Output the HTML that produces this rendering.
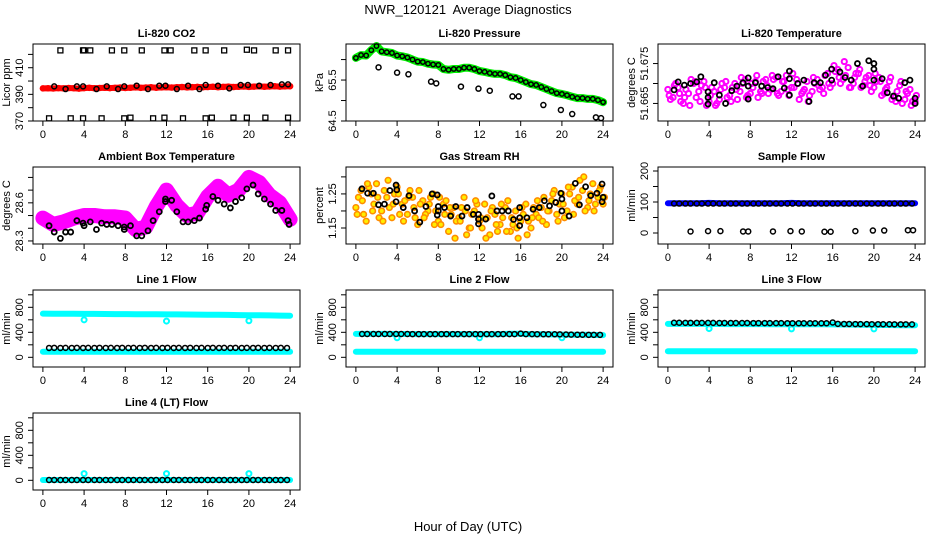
<!DOCTYPE html>
<html><head><meta charset="utf-8"><style>
html,body{margin:0;padding:0;background:#fff;}
svg{display:block;font-family:"Liberation Sans",Arial,sans-serif;}
</style></head><body>
<svg id="chart" width="936" height="540" viewBox="0 0 936 540" xmlns="http://www.w3.org/2000/svg">
<rect width="936" height="540" fill="#fff"/>
<text x="468" y="14" text-anchor="middle" font-size="13" style="white-space:pre">NWR_120121&#160; Average Diagnostics</text>
<text x="468" y="531" text-anchor="middle" font-size="13">Hour of Day (UTC)</text>
</svg>
<script>
// ---------- data ----------
const xTickLabels = [0,4,8,12,16,20,24];
const blackHours = [0.6,1.1,1.7,2.2,2.8,3.3,3.9,4.4,5.0,5.5,6.1,6.6,7.2,7.7,8.3,8.8,9.4,9.9,10.5,11.0,11.6,12.1,12.7,13.2,13.8,14.3,14.9,15.4,16.0,16.5,17.1,17.6,18.2,18.7,19.3,19.8,20.4,20.9,21.5,22.0,22.6,23.1,23.7];

// CO2
const co2Red = [394.5,394.6,394.4,394.7,394.5,394.8,394.6,394.3,394.7,394.9,394.6,394.8,395.0,394.7,394.9,395.1,394.8,395.0,395.2,394.9,395.1,395.3,395.0,395.2,395.4,395.1,395.3,395.5,395.2,395.4,395.6,395.3,395.5,395.7,395.4,395.6,395.8,395.5,395.7,395.9,395.6,395.8,396.0,395.7,395.9,396.1,395.8,396.0,396.1];
const co2BlackHours = [1.1,2.2,3.3,3.9,5.2,6.2,7.3,7.9,9.1,10.2,11.3,11.9,13.0,14.1,15.2,15.8,17.0,18.1,19.2,19.9,21.0,22.1,23.2,23.8];
const co2BlackVals = [396,394,396,396,394,396,394,396,396.5,394,396.5,396.5,394,396.5,394,397,396.5,394.5,397,397,396.5,397,397.5,397.5];
const co2HighHours = [1.7,3.9,4.0,4.6,6.7,7.9,9.6,11.8,12.4,14.7,15.8,17.6,19.8,20.5,22.6,23.8];
const co2HighVals = [423,423,423,423,423,423,423,423,423,423,423,423,423.5,423,423,423];
const co2LowHours = [0.6,2.7,3.9,5.7,7.9,8.5,10.7,11.8,13.6,15.8,16.4,18.5,19.8,21.6,23.8];
const co2LowVals = [372,372,372,372,372,372.5,372,372.5,372,372,372.5,372.5,372.5,372.5,372.5];

// Pressure
const pressGreen = [66.04,66.11,66.10,66.23,66.33,66.20,66.18,66.16,66.10,66.08,66.05,66.00,65.95,65.94,65.90,65.88,65.87,65.77,65.75,65.77,65.77,65.80,65.80,65.77,65.72,65.70,65.67,65.65,65.65,65.62,65.57,65.55,65.50,65.45,65.40,65.38,65.33,65.28,65.23,65.18,65.16,65.13,65.09,65.06,65.06,65.04,65.04,65.01,64.96];
const pressOutHours = [2.2,4.0,5.1,7.3,7.8,10.2,11.9,13.0,15.2,15.8,18.2,19.9,21.0,23.3,23.8];
const pressOutVals = [65.81,65.68,65.64,65.46,65.42,65.34,65.29,65.24,65.10,65.10,64.89,64.77,64.67,64.59,64.57];

// Li-820 temperature
const tempA = [51.6685,51.6665,51.669,51.665,51.6675,51.670,51.668,51.6705,51.6655,51.668,51.666,51.669,51.667,51.670,51.668,51.671,51.6675,51.6705,51.668,51.671,51.6685,51.6715,51.668,51.672,51.669,51.671,51.6675,51.6705,51.668,51.671,51.669,51.6725,51.670,51.6735,51.671,51.674,51.670,51.6725,51.6695,51.672,51.669,51.6715,51.6675,51.6705,51.6665,51.6695,51.666,51.6685,51.6655];
const tempB = [51.666,51.670,51.6655,51.6685,51.671,51.6665,51.6695,51.6645,51.669,51.665,51.670,51.6665,51.669,51.666,51.670,51.667,51.669,51.6665,51.6705,51.6675,51.671,51.667,51.6705,51.667,51.669,51.666,51.6685,51.667,51.670,51.6685,51.672,51.669,51.673,51.670,51.672,51.669,51.6725,51.669,51.6715,51.668,51.6705,51.667,51.669,51.666,51.668,51.665,51.6675,51.6655];
const tempC = [51.667,51.6695,51.6675,51.6665,51.6645,51.6705,51.6655,51.669,51.667,51.6645,51.6685,51.6705,51.6655,51.6685,51.6715,51.6665,51.670,51.672,51.6675,51.6695,51.672,51.6675,51.6705,51.6685,51.6725,51.670,51.668,51.6655,51.6715,51.6695,51.6675,51.670,51.6745,51.6715,51.6755,51.669,51.6715,51.6735,51.6705,51.6695,51.6725,51.6705,51.6685,51.6715,51.6655,51.6705,51.668,51.6645,51.667];
const tempBlackHours = [0.6,1.0,1.6,2.2,2.8,3.2,3.9,3.9,3.9,4.5,5.0,5.6,6.2,6.7,7.3,7.8,7.8,7.8,8.5,9.1,9.7,10.2,10.7,11.3,11.8,11.8,11.8,12.6,13.2,13.7,14.2,14.8,15.3,15.9,15.9,16.7,17.2,17.8,18.4,18.9,19.5,20.0,20.0,20.0,20.8,21.3,21.9,22.4,23.0,23.5,24.0,24.0];
const tempBlackVals = [51.6684,51.6704,51.6696,51.6700,51.6704,51.6717,51.6679,51.6665,51.66485,51.6702,51.6671,51.6650,51.6682,51.66935,51.6702,51.6714,51.66935,51.6661,51.6702,51.66935,51.6690,51.6687,51.6717,51.66885,51.6712,51.6731,51.6671,51.6700,51.67085,51.6655,51.6702,51.6702,51.6721,51.6736,51.67085,51.6729,51.6715,51.67085,51.6750,51.66935,51.6757,51.6750,51.6736,51.67085,51.6712,51.6677,51.66685,51.6663,51.6702,51.67085,51.6650,51.6663];

// Ambient box temperature (hourly band centre)
const ambBand = [28.48,28.43,28.45,28.48,28.50,28.50,28.49,28.49,28.48,28.39,28.41,28.57,28.70,28.58,28.50,28.52,28.65,28.73,28.66,28.70,28.80,28.76,28.66,28.60,28.47];
const ambBlackHours = [0.6,1.1,1.7,2.2,2.7,3.3,3.9,4.0,4.6,5.2,5.7,6.2,6.7,7.3,7.9,7.9,8.5,9.1,9.6,10.2,10.7,11.3,11.9,11.9,12.5,13.0,13.6,14.1,14.7,15.2,15.8,15.9,16.5,17.0,17.6,18.2,18.7,19.3,19.8,20.4,20.9,21.5,22.1,22.6,23.2,23.8,23.9];
const ambBlackVals = [28.42,28.37,28.32,28.37,28.37,28.46,28.44,28.42,28.45,28.39,28.44,28.43,28.43,28.42,28.41,28.39,28.42,28.34,28.34,28.38,28.46,28.53,28.63,28.61,28.62,28.53,28.45,28.45,28.46,28.48,28.55,28.58,28.65,28.62,28.59,28.56,28.61,28.64,28.71,28.74,28.67,28.63,28.59,28.54,28.54,28.46,28.43];

// Gas stream RH
const rhA = [1.21,1.26,1.17,1.25,1.28,1.20,1.24,1.18,1.27,1.22,1.19,1.24,1.16,1.23,1.20,1.25,1.17,1.22,1.14,1.21,1.18,1.24,1.15,1.20,1.17,1.22,1.13,1.19,1.16,1.21,1.14,1.20,1.17,1.22,1.15,1.19,1.21,1.16,1.23,1.19,1.25,1.20,1.27,1.22,1.26,1.21,1.28,1.24,1.22];
const rhB = [1.24,1.19,1.27,1.22,1.18,1.26,1.21,1.25,1.19,1.23,1.26,1.18,1.22,1.19,1.24,1.20,1.16,1.23,1.19,1.17,1.21,1.13,1.19,1.22,1.15,1.18,1.21,1.14,1.18,1.23,1.16,1.12,1.19,1.17,1.21,1.18,1.24,1.20,1.26,1.22,1.18,1.25,1.23,1.29,1.20,1.25,1.22,1.27];
const rhC = [1.19,1.23,1.28,1.20,1.24,1.17,1.29,1.22,1.25,1.17,1.24,1.21,1.26,1.18,1.22,1.16,1.24,1.19,1.21,1.12,1.17,1.20,1.15,1.23,1.18,1.12,1.20,1.16,1.22,1.14,1.18,1.15,1.21,1.13,1.18,1.23,1.17,1.20,1.25,1.17,1.22,1.27,1.19,1.24,1.30,1.23,1.20,1.26,1.24];
const rhBlackHours = [0.59,1.14,1.7,2.2,2.77,3.3,3.9,3.97,3.9,5.16,4.6,5.7,6.2,6.8,7.4,7.9,8.0,8.0,7.9,8.6,9.2,9.7,10.3,10.8,11.4,11.9,11.9,11.9,12.6,13.2,13.7,14.2,14.8,15.3,15.9,15.9,15.9,16.6,17.2,17.8,18.3,18.8,19.4,19.9,20.0,20.0,20.7,21.3,21.7,22.3,22.8,23.4,23.9,24.0,23.9];
const rhBlackVals = [1.265,1.252,1.252,1.218,1.22,1.26,1.276,1.262,1.227,1.245,1.21,1.2,1.167,1.213,1.25,1.247,1.213,1.2,1.188,1.21,1.185,1.213,1.185,1.21,1.19,1.19,1.176,1.162,1.176,1.244,1.2,1.2,1.2,1.175,1.21,1.18,1.157,1.18,1.205,1.21,1.23,1.215,1.225,1.252,1.2,1.235,1.185,1.281,1.218,1.271,1.245,1.252,1.279,1.24,1.227];

// Sample flow
const sampleBlue = [96,96,96,96,97,96,96,96,96,96,96,96,97,96,96,96,96,96,96,96,96,96,96,96,96];
const sampleBlack = [95,95,95,95,95,95,95,95,95,95,95,95,95,95,95,95,95,95,95,95,95,95,95,95,95,95,95,95,95,95,95,95,95,95,95,95,95,95,95,95,95,95,95];
const sampleOutHours = [2.2,3.9,5.1,7.3,7.8,10.2,11.9,13.0,15.2,15.8,18.2,19.9,21.0,23.3,23.8];
const sampleOutVals = [5,6,6,5,5,5,6,5,4,4,6,8,8,9,9];

// Line flows
const dipHours = [4,12,20];
const l1CyanHigh = [700,698,697,696,695,694,693,692,691,690,689,688,687,686,685,684,682,680,678,676,674,672,670,668,666];
const l1CyanLow = [90,90,90,90,90,90,90,90,90,90,90,90,90,90,90,90,90,90,90,90,90,90,90,90,90];
const l1Dips = [600,580,585];
const l1Black = [150,152,150,151,150,152,150,151,150,152,150,151,150,152,150,151,150,152,150,151,150,152,150,151,150,152,150,151,150,152,150,151,150,152,150,151,150,152,150,151,150,152,150];
const l2CyanHigh = [375,375,374,374,373,373,372,372,372,371,371,371,370,370,372,378,378,370,368,366,364,362,360,358,356];
const l2CyanLow = [90,90,90,90,90,90,90,90,90,90,90,90,90,90,90,90,90,90,90,90,90,90,90,90,90];
const l2Dips = [313,313,313];
const l2Black = [373,373,373,373,373,373,373,373,373,372,372,372,372,372,372,372,372,372,372,372,372,372,372,372,372,372,372,372,380,372,372,370,370,370,369,368,365,364,362,361,360,360,360];
const l3CyanHigh = [535,535,534,534,533,533,532,532,531,531,530,530,529,529,528,528,527,525,523,521,519,517,515,513,512];
const l3CyanLow = [96,96,96,96,96,96,96,96,96,96,96,96,96,96,96,96,96,96,96,96,96,96,96,96,96];
const l3Dips = [460,455,455];
const l3Black = [553,553,552,552,552,551,551,551,550,550,550,549,549,549,548,548,548,547,547,547,546,546,546,545,545,545,545,545,558,535,534,533,532,531,531,530,530,529,529,528,528,528,527];
const l4Cyan = [5,5,5,5,5,5,5,5,5,5,5,5,5,5,5,5,5,5,5,5,5,5,5,5,5];
const l4Dips = [107,107,107];
const l4Black = [5,5,5,5,5,5,5,5,5,5,5,5,5,5,5,5,5,5,5,5,5,5,5,5,5,5,5,5,5,5,5,5,5,5,5,5,5,5,5,5,5,5,5];

// ---------- drawing ----------
const NS = 'http://www.w3.org/2000/svg';
const svg = document.getElementById('chart');
const COLL = [33, 346, 658];
const ROWT = [44, 167, 290, 413];
const PW = 267, PH = 77;

function mk(tag, attrs, parent) {
  const e = document.createElementNS(NS, tag);
  for (const k in attrs) e.setAttribute(k, attrs[k]);
  parent.appendChild(e);
  return e;
}

function panel(name, c, r, title, ylab, ylim, ticks, labels) {
  const L = COLL[c], T = ROWT[r], B = T + PH;
  const g = mk('g', {}, svg);
  
  
  const xs = h => L + (h + 0.96) / 25.92 * PW;
  const ys = v => B - (v - ylim[0]) / (ylim[1] - ylim[0]) * PH;
  const marks = mk('g', {}, g);
  
  
  const axes = mk('g', {}, g);
  
  
  const box = mk('rect', {x: L, y: T, width: PW, height: PH, fill: 'none', stroke: '#000', 'stroke-width': 1}, axes);
  
  
  const t = mk('text', {x: L + PW / 2, y: T - 7, 'text-anchor': 'middle', 'font-size': 11, 'font-weight': 'bold'}, axes);
  t.textContent = title;
  
  
  xTickLabels.forEach(h => {
    const X = xs(h);
    mk('line', {x1: X, x2: X, y1: B, y2: B + 5, stroke: '#000'}, axes);
    const tl = mk('text', {x: X, y: B + 17, 'text-anchor': 'middle', 'font-size': 11}, axes);
    tl.textContent = h;
    
    
  });
  ticks.forEach(v => {
    const Y = ys(v);
    mk('line', {x1: L - 5, x2: L, y1: Y, y2: Y, stroke: '#000'}, axes);
  });
  labels.forEach(v => {
    const Y = ys(v);
    const tl = mk('text', {x: L - 10, y: Y, 'text-anchor': 'middle', 'font-size': 11, transform: `rotate(-90 ${L - 10} ${Y})`}, axes);
    tl.textContent = v;
    
    
  });
  const yt = mk('text', {x: L - 23, y: T + PH / 2, 'text-anchor': 'middle', 'font-size': 11, transform: `rotate(-90 ${L - 23} ${T + PH / 2})`}, axes);
  yt.textContent = ylab;
  
  
  return {xs, ys, g: marks};
}

function pts(p, hours, vals, stroke, opts) {
  opts = opts || {};
  vals.forEach((v, i) => {
    const cx = p.xs(hours[i]), cy = p.ys(v);
    let e;
    if (opts.square) {
      e = mk('rect', {x: cx - 2.5, y: cy - 2.5, width: 5, height: 5, fill: 'none', stroke: stroke, 'stroke-width': 1.3}, p.g);
    } else {
      e = mk('circle', {cx: cx, cy: cy, r: opts.r || 2.5, fill: opts.fill || 'none', stroke: stroke, 'stroke-width': opts.sw || 1.5}, p.g);
    }
    
    
  });
}
function band(p, step, vals, stroke, width, name) {
  const d = vals.map((v, i) => (i ? 'L' : 'M') + p.xs(i * step).toFixed(1) + ' ' + p.ys(v).toFixed(1)).join(' ');
  const e = mk('path', {d: d, fill: 'none', stroke: stroke, 'stroke-width': width, 'stroke-linejoin': 'round', 'stroke-linecap': 'round'}, p.g);
  
  
}
const idxHours = (arr, step, off) => arr.map((_, i) => i * step + (off || 0));

// CO2
let p = panel('co2', 0, 0, 'Li-820 CO2', 'Licor ppm', [370, 427.8], [370,380,390,400,410,420], [370,390,410]);
band(p, 0.5, co2Red, '#ff0000', 6, 'co2-red-series');
pts(p, idxHours(co2Red, 0.5), co2Red, '#ff0000', {name: 'co2-red-point'});
pts(p, co2BlackHours, co2BlackVals, '#000', {name: 'co2-black-point'});
pts(p, co2HighHours, co2HighVals, '#000', {square: true, name: 'co2-high-outlier'});
pts(p, co2LowHours, co2LowVals, '#000', {square: true, name: 'co2-low-outlier'});

// Pressure
p = panel('pressure', 1, 0, 'Li-820 Pressure', 'kPa', [64.5, 66.38], [64.5,65,65.5,66], [64.5,65.5]);
band(p, 0.5, pressGreen, '#00ee00', 8, 'pressure-green-series');
pts(p, idxHours(pressGreen, 0.5), pressGreen, '#000', {name: 'pressure-black-point', r: 2.2});
pts(p, pressOutHours, pressOutVals, '#000', {name: 'pressure-outlier'});

// Temperature
p = panel('temperature', 2, 0, 'Li-820 Temperature', 'degrees C', [51.6606, 51.6799], [51.665,51.670,51.675], [51.665,51.675]);
pts(p, idxHours(tempA, 0.5), tempA, '#ff00ff', {name: 'temp-magenta-point', r: 2.6, sw: 2});
pts(p, idxHours(tempB, 0.5, 0.25), tempB, '#ff00ff', {name: 'temp-magenta-point', r: 2.6, sw: 2});
pts(p, idxHours(tempC, 0.5, 0.125), tempC, '#ff00ff', {name: 'temp-magenta-point', r: 2.6, sw: 2});
pts(p, tempBlackHours, tempBlackVals, '#000', {name: 'temp-black-point', sw: 1.8});

// Ambient
p = panel('ambient', 0, 1, 'Ambient Box Temperature', 'degrees C', [28.276, 28.882], [28.3,28.4,28.5,28.6,28.7,28.8], [28.3,28.6]);
band(p, 1, ambBand, '#ff00ff', 15, 'ambient-magenta-band');
pts(p, ambBlackHours, ambBlackVals, '#000', {name: 'ambient-black-point', sw: 1.8});

// RH
p = panel('rh', 1, 1, 'Gas Stream RH', 'percent', [1.103, 1.329], [1.15,1.20,1.25,1.30], [1.15,1.25]);
pts(p, idxHours(rhA, 0.5), rhA, '#ff8c00', {name: 'rh-point', fill: '#ffee00', r: 2.8, sw: 1.6});
pts(p, idxHours(rhB, 0.5, 0.25), rhB, '#ff8c00', {name: 'rh-point', fill: '#ffee00', r: 2.8, sw: 1.6});
pts(p, idxHours(rhC, 0.5, 0.125), rhC, '#ff8c00', {name: 'rh-point', fill: '#ffee00', r: 2.8, sw: 1.6});
pts(p, rhBlackHours, rhBlackVals, '#000', {name: 'rh-black-point', sw: 1.8});

// Sample flow
p = panel('sample-flow', 2, 1, 'Sample Flow', 'ml/min', [-35.5, 212.9], [0,50,100,150,200], [0,100,200]);
band(p, 1, sampleBlue, '#0000ff', 6, 'sample-blue-band');
pts(p, blackHours, sampleBlack, '#000', {name: 'sample-black-point'});
pts(p, sampleOutHours, sampleOutVals, '#000', {name: 'sample-outlier'});

// Flow panels
const fl = [-155, 1077], ft = [0,200,400,600,800,1000], fL = [0,400,800];
function flow(name, c, r, title, hi, lo, dips, blk) {
  const q = panel(name, c, r, title, 'ml/min', fl, ft, fL);
  if (hi) band(q, 1, hi, '#00ffff', 6, name + '-cyan-high');
  band(q, 1, lo, '#00ffff', 6, name + '-cyan-low');
  pts(q, dipHours, dips, '#00ffff', {name: name + '-cyan-dip', sw: 2});
  pts(q, blackHours, blk, '#000', {name: name + '-black-point'});
}
flow('line1-flow', 0, 2, 'Line 1 Flow', l1CyanHigh, l1CyanLow, l1Dips, l1Black);
flow('line2-flow', 1, 2, 'Line 2 Flow', l2CyanHigh, l2CyanLow, l2Dips, l2Black);
flow('line3-flow', 2, 2, 'Line 3 Flow', l3CyanHigh, l3CyanLow, l3Dips, l3Black);
flow('line4-flow', 0, 3, 'Line 4 (LT) Flow', null, l4Cyan, l4Dips, l4Black);
</script>
</body></html>
